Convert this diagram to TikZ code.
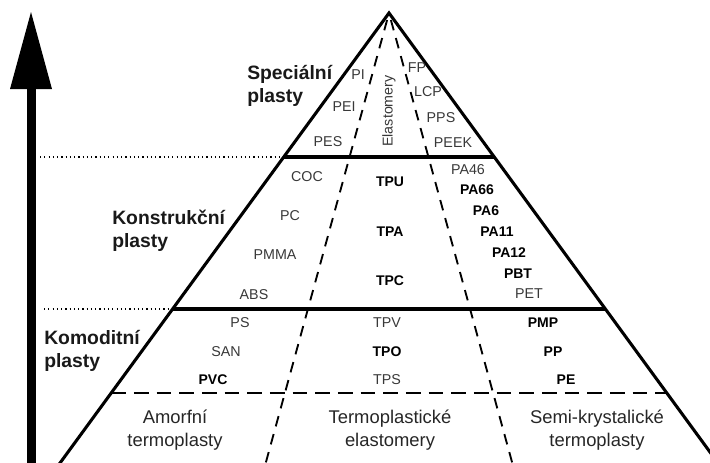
\documentclass[tikz,border=0pt]{standalone}
\usepackage{fontspec}
\setmainfont{Liberation Sans}
\begin{document}
\begin{tikzpicture}[x=0.75pt,y=-0.75pt,
  lbl/.style={font=\fontsize{10.7}{12}\selectfont, text=black!78, inner sep=0pt},
  blbl/.style={font=\bfseries\fontsize{10.5}{12}\selectfont, text=black, inner sep=0pt},
  head/.style={font=\bfseries\fontsize{14.5}{17.5}\selectfont, align=left, inner sep=0pt, anchor=west, text=black!90},
  foot/.style={font=\fontsize{13.8}{17.25}\selectfont, align=center, inner sep=0pt, text=black!85},
  edgeline/.style={line width=2.3pt, line join=miter},
  sepline/.style={line width=2.3pt},
  slantdash/.style={line width=1.4pt, dash pattern=on 8pt off 6pt},
  flatdash/.style={line width=1.5pt, dash pattern=on 11pt off 6pt},
  dotline/.style={line width=1.1pt, dash pattern=on 0.9pt off 2.3pt},
]
\useasboundingbox (0,0) rectangle (710,462);
\clip (0,0) rectangle (710,462);

% geometry
\coordinate (A) at (389,13);
\coordinate (BL) at (54.9,470);
\coordinate (BR) at (723.1,470);
\coordinate (L1) at (283.7,157);
\coordinate (R1) at (494.3,157);
\coordinate (L2) at (172.6,309);
\coordinate (R2) at (605.4,309);
\coordinate (L3) at (111.2,393);
\coordinate (R3) at (666.8,393);
\coordinate (DT1) at (387.1,20);
\coordinate (DT2) at (390.9,20);
\coordinate (DL) at (263.8,470);
\coordinate (DR) at (514.2,470);
\coordinate (D1) at (40,157);
\coordinate (D2) at (44,309);

% arrow
\coordinate (AT) at (31,12);
\fill (27,470) rectangle (36,85);
\fill (10,89) -- (AT) -- (52,89) -- cycle;

% dotted level lines
\draw[dotline] (D1) -- (L1);
\draw[dotline] (D2) -- (L2);

% internal dashed lines
\draw[slantdash] (DT1) -- (DL);
\draw[slantdash] (DT2) -- (DR);
\draw[flatdash] (L3) -- (R3);

% level separators
\draw[sepline] (L1) -- (R1);
\draw[sepline] (L2) -- (R2);

% pyramid outline
\draw[edgeline] (BL) -- (A) -- (BR);

% headings
\node[head] (hs) at (247,86) {Speciální\\plasty};
\node[head] (hk) at (112,231) {Konstrukční\\plasty};
\node[head] (hc) at (44,351) {Komoditní\\plasty};

% special plastics
\node[lbl] (pi) at (358,75) {PI};
\node[lbl] (pei) at (344,107) {PEI};
\node[lbl] (pes) at (328,142) {PES};
\node[lbl] (fp) at (417,68) {FP};
\node[lbl] (lcp) at (428,92) {LCP};
\node[lbl] (pps) at (441,118) {PPS};
\node[lbl] (peek) at (453,143) {PEEK};
\node[lbl, rotate=90] (elast) at (389,111) {Elastomery};

% engineering plastics
\node[lbl] (coc) at (307,177) {COC};
\node[lbl] (pc) at (290,216) {PC};
\node[lbl] (pmma) at (275,255) {PMMA};
\node[lbl] (abs) at (254,295) {ABS};
\node[blbl] (tpu) at (390,182) {TPU};
\node[blbl] (tpa) at (390,232) {TPA};
\node[blbl] (tpc) at (390,281) {TPC};
\node[lbl] (pa46) at (468,170) {PA46};
\node[blbl] (pa66) at (477,190) {PA66};
\node[blbl] (pa6) at (486,211) {PA6};
\node[blbl] (pa11) at (497,232) {PA11};
\node[blbl] (pa12) at (509,253) {PA12};
\node[blbl] (pbt) at (518,274) {PBT};
\node[lbl] (pet) at (529,294) {PET};

% commodity plastics
\node[lbl] (ps) at (240,323) {PS};
\node[lbl] (san) at (226,352) {SAN};
\node[blbl] (pvc) at (213,380) {PVC};
\node[lbl] (tpv) at (387,323) {TPV};
\node[blbl] (tpo) at (387,352) {TPO};
\node[lbl] (tps) at (387,380) {TPS};
\node[blbl] (pmp) at (543,323) {PMP};
\node[blbl] (pp) at (553,352) {PP};
\node[blbl] (pe) at (566,380) {PE};

% footer
\node[foot] (fa) at (175,430) {Amorfní\\termoplasty};
\node[foot] (ft) at (390,430) {Termoplastické\\elastomery};
\node[foot] (fs) at (597,430) {Semi-krystalické\\termoplasty};
\end{tikzpicture}
\end{document}
